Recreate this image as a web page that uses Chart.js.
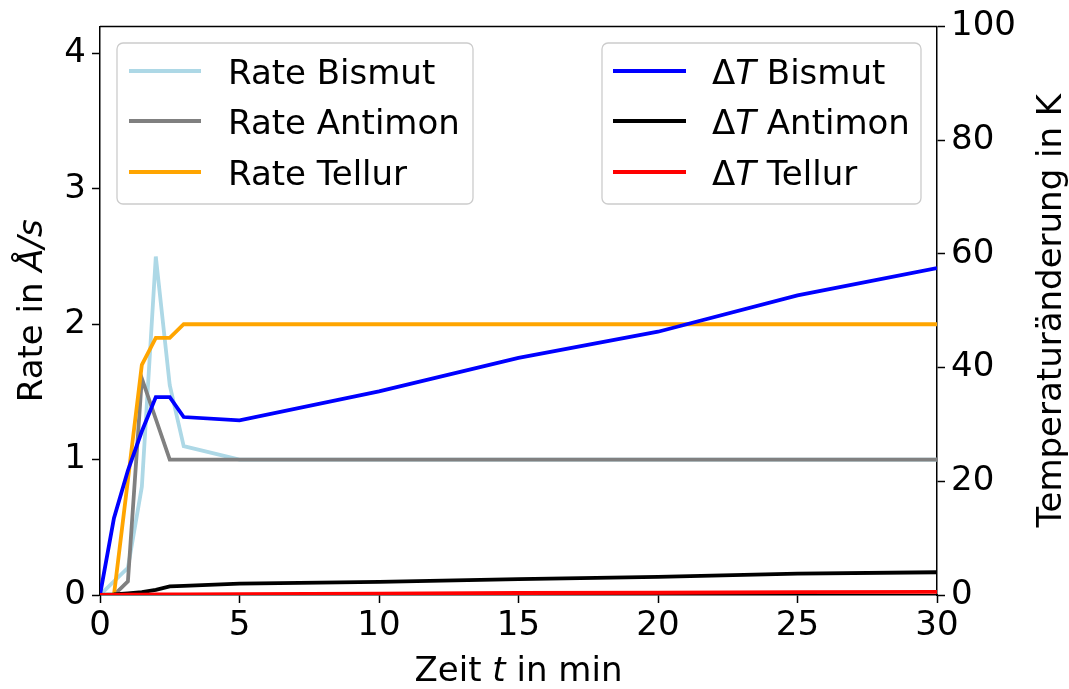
<!DOCTYPE html>
<html>
<head>
<meta charset="utf-8">
<script src="https://cdn.jsdelivr.net/npm/chart.js@4.4.1/dist/chart.umd.min.js"></script>
<style>
  body { margin: 0; background: #fff; }
  #wrap { width: 1069px; height: 689px; }
</style>
</head>
<body>
<div id="wrap"><canvas id="rates" width="1069" height="689"></canvas></div>
<script>
// time in minutes
const times = [0, 0.5, 1, 1.5, 2, 2.5, 3, 5, 10, 15, 20, 25, 30];

// rates in A/s (left axis)
const rateBismut  = [0, 0.1, 0.2, 0.8, 2.5, 1.55, 1.1, 1.0, 1.0, 1.0, 1.0, 1.0, 1.0];
const rateAntimon = [0, 0, 0.1, 1.6, 1.3, 1.0, 1.0, 1.0, 1.0, 1.0, 1.0, 1.0, 1.0];
const rateTellur  = [0, 0, 0.85, 1.7, 1.9, 1.9, 2.0, 2.0, 2.0, 2.0, 2.0, 2.0, 2.0];

// temperature change in K (right axis)
const dtBismut  = [0, 13.5, 21.9, 28.8, 34.8, 34.8, 31.3, 30.7, 35.8, 41.7, 46.3, 52.7, 57.5];
const dtAntimon = [0, 0.1, 0.3, 0.5, 0.9, 1.5, 1.6, 2.0, 2.3, 2.8, 3.2, 3.75, 4.0];
const dtTellur  = [0, 0, 0.05, 0.05, 0.1, 0.1, 0.1, 0.15, 0.25, 0.35, 0.4, 0.5, 0.55];

const xTicks = [0, 5, 10, 15, 20, 25, 30];
const rateTicks = [0, 1, 2, 3, 4];
const tempTicks = [0, 20, 40, 60, 80, 100];

const FONT = '"DejaVu Sans", sans-serif';
const FS = 34;

function pts(ys) {
  return times.map((t, i) => ({ x: t, y: ys[i] }));
}

// draw text made of parts [text, italic]
function richWidth(ctx, parts) {
  let w = 0;
  parts.forEach(p => {
    ctx.font = (p[1] ? 'italic ' : '') + FS + 'px ' + FONT;
    w += ctx.measureText(p[0]).width;
  });
  return w;
}
function drawRich(ctx, parts, x, y, align) {
  let cx = x;
  if (align === 'center') cx = x - richWidth(ctx, parts) / 2;
  ctx.textAlign = 'left';
  ctx.textBaseline = 'alphabetic';
  ctx.fillStyle = '#000';
  parts.forEach(p => {
    ctx.font = (p[1] ? 'italic ' : '') + FS + 'px ' + FONT;
    ctx.fillText(p[0], cx, y);
    cx += ctx.measureText(p[0]).width;
  });
}

function labelParts(label) {
  if (label.startsWith('ΔT')) return [['Δ', false], ['T', true], [label.slice(2), false]];
  return [[label, false]];
}

function drawLegendBox(ctx, sets, left, top, right, bottom, lineX0, lineX1, textX, rowY) {
  ctx.save();
  const r = 6;
  ctx.beginPath();
  ctx.roundRect(left, top, right - left, bottom - top, r);
  ctx.fillStyle = 'rgba(255,255,255,0.8)';
  ctx.fill();
  ctx.lineWidth = 1.3;
  ctx.strokeStyle = '#cccccc';
  ctx.stroke();
  sets.forEach((ds, i) => {
    const y = rowY[i];
    ctx.beginPath();
    ctx.moveTo(lineX0, y);
    ctx.lineTo(lineX1, y);
    ctx.lineWidth = ds.borderWidth;
    ctx.strokeStyle = ds.borderColor;
    ctx.stroke();
    drawRich(ctx, labelParts(ds.label), textX, y + 12.5, 'left');
  });
  ctx.restore();
}

const decorations = {
  id: 'decorations',
  afterDatasetsDraw(chart) {
    const ctx = chart.ctx;
    const a = chart.chartArea;
    const ds = chart.data.datasets;
    ctx.save();
    // top spine
    ctx.beginPath();
    ctx.moveTo(a.left, a.top);
    ctx.lineTo(a.right, a.top);
    ctx.lineWidth = 1.5;
    ctx.strokeStyle = '#000';
    ctx.stroke();
    ctx.restore();

    const rows = [71, 121, 172];
    drawLegendBox(ctx, ds.slice(0, 3), 117, 43, 473, 204, 129, 201, 228, rows);
    drawLegendBox(ctx, ds.slice(3, 6), 602, 43, 921, 204, 613, 686, 712, rows);

    // axis titles
    ctx.save();
    drawRich(ctx, [['Zeit ', false], ['t', true], [' in min', false]], (a.left + a.right) / 2, 681, 'center');
    ctx.translate(42, (a.top + a.bottom) / 2);
    ctx.rotate(-Math.PI / 2);
    drawRich(ctx, [['Rate in ', false], ['Å/s', true]], 0, 0, 'center');
    ctx.restore();
    ctx.save();
    ctx.translate(1061, (a.top + a.bottom) / 2);
    ctx.rotate(-Math.PI / 2);
    drawRich(ctx, [['Temperaturänderung in K', false]], 0, 0, 'center');
    ctx.restore();
  }
};

function line(label, ys, color, axis, order) {
  return {
    label: label,
    data: pts(ys),
    borderColor: color,
    backgroundColor: color,
    borderWidth: 3.8,
    pointRadius: 0,
    tension: 0,
    fill: false,
    yAxisID: axis,
    order: order
  };
}

const tickStyle = {
  color: '#000',
  font: { family: FONT, size: FS }
};
const gridStyle = {
  drawOnChartArea: false,
  drawTicks: true,
  tickLength: 8,
  tickWidth: 1.5,
  tickColor: '#000'
};
const borderStyle = { display: true, color: '#000', width: 1.5 };

new Chart(document.getElementById('rates'), {
  type: 'line',
  data: {
    datasets: [
      line('Rate Bismut', rateBismut, '#add8e6', 'y', 6),
      line('Rate Antimon', rateAntimon, '#808080', 'y', 5),
      line('Rate Tellur', rateTellur, '#ffa500', 'y', 4),
      line('ΔT Bismut', dtBismut, '#0000ff', 'y1', 3),
      line('ΔT Antimon', dtAntimon, '#000000', 'y1', 2),
      line('ΔT Tellur', dtTellur, '#ff0000', 'y1', 1)
    ]
  },
  options: {
    responsive: false,
    animation: false,
    layout: { padding: { top: 26, left: 0, right: 0, bottom: 0 } },
    plugins: {
      legend: { display: false },
      tooltip: { enabled: false }
    },
    scales: {
      x: {
        type: 'linear',
        min: 0,
        max: 30,
        ticks: Object.assign({ padding: 3, maxRotation: 0 }, tickStyle),
        grid: gridStyle,
        border: borderStyle,
        afterBuildTicks: s => { s.ticks = xTicks.map(v => ({ value: v })); },
        afterFit: s => { s.height = 94; }
      },
      y: {
        position: 'left',
        min: 0,
        max: 4.2,
        ticks: Object.assign({ padding: 6 }, tickStyle),
        grid: gridStyle,
        border: borderStyle,
        afterBuildTicks: s => { s.ticks = rateTicks.map(v => ({ value: v })); },
        afterFit: s => { s.width = 100; }
      },
      y1: {
        position: 'right',
        min: 0,
        max: 100,
        ticks: Object.assign({ padding: 6 }, tickStyle),
        grid: gridStyle,
        border: borderStyle,
        afterBuildTicks: s => { s.ticks = tempTicks.map(v => ({ value: v })); },
        afterFit: s => { s.width = 132; }
      }
    }
  },
  plugins: [decorations]
});
</script>
</body>
</html>
